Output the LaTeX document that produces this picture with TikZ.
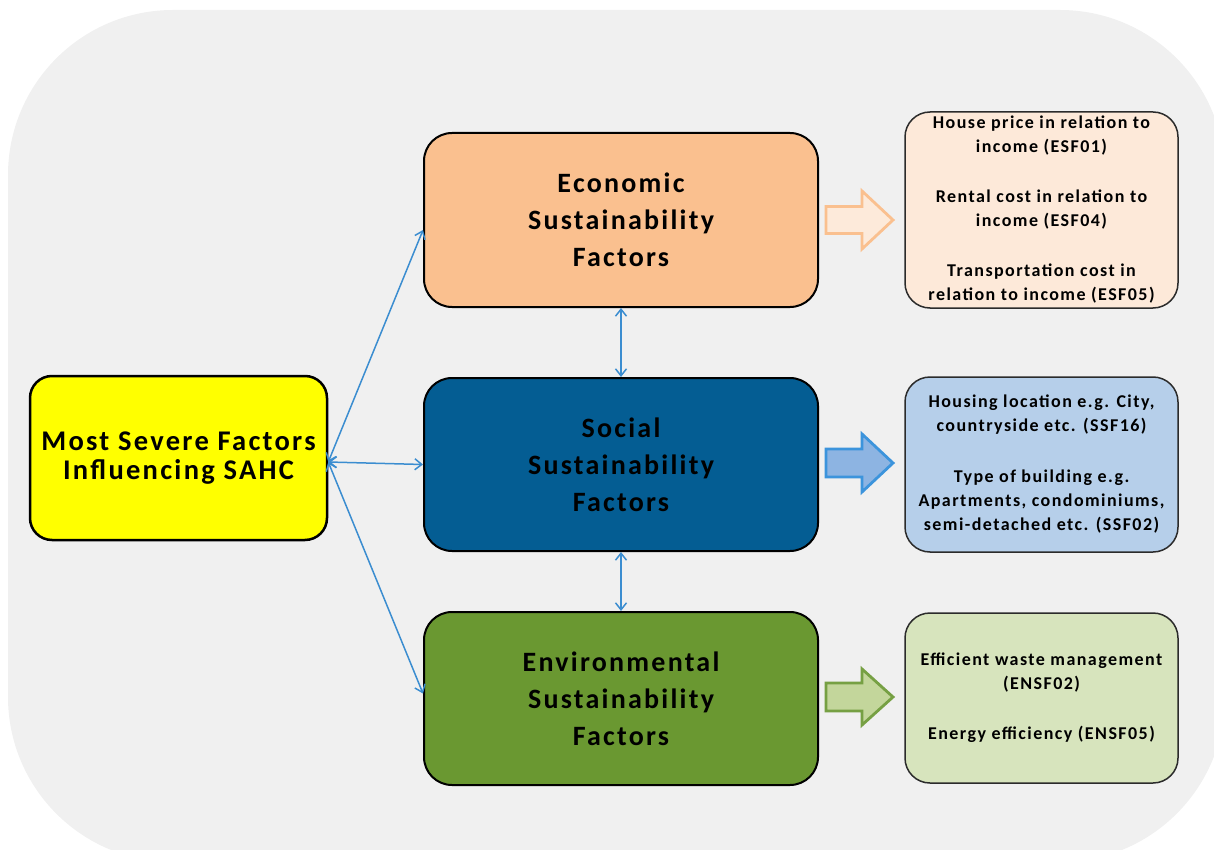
\documentclass[tikz,border=0pt]{standalone}
\usepackage{fontspec}
\setmainfont{Carlito}
\newfontfamily\bigf{Carlito}[LetterSpace=8]
\newfontfamily\smallf{Carlito}[LetterSpace=8]
\usetikzlibrary{arrows.meta}
\definecolor{bgc}{HTML}{F0F0F0}
\definecolor{yellowc}{HTML}{FFFF00}
\definecolor{econc}{HTML}{FAC08F}
\definecolor{socc}{HTML}{045D93}
\definecolor{envc}{HTML}{6A9831}
\definecolor{econl}{HTML}{FDE9D9}
\definecolor{socl}{HTML}{B6CFEA}
\definecolor{envl}{HTML}{D7E4BD}
\definecolor{connc}{HTML}{3B8DD0}
\definecolor{barrowb}{HTML}{3C94DC}
\definecolor{barrowf}{HTML}{8DB4E2}
\definecolor{garrowb}{HTML}{76A043}
\definecolor{garrowf}{HTML}{C3D69B}
\definecolor{oarrowf}{HTML}{FDEADA}
\definecolor{edgec}{HTML}{2B2B2B}
\tikzset{
  mainbox/.style={draw=black, line width=2pt, rounded corners=28pt,
    minimum width=394pt, minimum height=174pt, align=center, inner sep=0pt,
    font=\bigf\bfseries\fontsize{28}{37}\selectfont},
  sidebox/.style={draw=edgec, line width=1.5pt, rounded corners=25pt,
    minimum width=273pt, align=center, inner sep=0pt,
    font=\smallf\bfseries\fontsize{18}{24}\selectfont},
  conn/.style={draw=connc, line width=1.5pt, >={Straight Barb[length=7pt,width=11pt]}, <->},
  blockarrow/.style={line width=2.8pt, line join=miter}
}
\begin{document}
\begin{tikzpicture}[x=1pt,y=-1pt]
\useasboundingbox (0,0) rectangle (1214,850);
\begin{scope}
\clip (0,0) rectangle (1214,850);
\fill[bgc, rounded corners=165pt] (8,10) rectangle (1225,862);
\end{scope}

% left box
\node[mainbox, fill=yellowc, minimum width=297pt, minimum height=164pt,
  rounded corners=22pt, line width=2.5pt,
  font=\bigf\bfseries\fontsize{28.5}{29}\selectfont] (sev) at (178.5,458)
  {Most Severe Factors\\Influencing SAHC};

% main boxes
\node[mainbox, fill=econc] (econ) at (621,220) {Economic\\Sustainability\\Factors};
\node[mainbox, fill=socc, minimum height=173pt] (soc) at (621,464.5) {Social\\Sustainability\\Factors};
\node[mainbox, fill=envc, minimum height=173pt] (env) at (621,698.5) {Environmental\\Sustainability\\Factors};

% side boxes
\node[sidebox, fill=econl, minimum height=196pt] (econd) at (1041.5,210)
  {House price in relation to\\income (ESF01)\\[26pt]Rental cost in relation to\\income (ESF04)\\[26pt]Transportation cost in\\relation to income (ESF05)};
\node[sidebox, fill=socl, minimum height=175pt] (socd) at (1041.5,464.5)
  {Housing location e.g. City,\\countryside etc. (SSF16)\\[27pt]Type of building e.g.\\Apartments, condominiums,\\semi-detached etc. (SSF02)};
\node[sidebox, fill=envl, minimum height=170pt] (envd) at (1041.5,698)
  {Efficient waste management\\(ENSF02)\\[26pt]Energy efficiency (ENSF05)};

% connectors
\coordinate (hub) at ([yshift=-4pt]sev.east);
\draw[conn] (hub) -- ([yshift=-10pt]econ.west);
\draw[conn] (hub) -- (soc.west);
\draw[conn] (hub) -- ([yshift=5pt]env.west);
\draw[conn] (econ.south) -- (soc.north);
\draw[conn] (soc.south) -- (env.north);

% block arrows
\filldraw[blockarrow, draw=econc, fill=oarrowf]
  (826,206.5) -- (862,206.5) -- (862,191) -- (893,220) -- (862,249) -- (862,233.5) -- (826,233.5) -- cycle;
\filldraw[blockarrow, draw=barrowb, fill=barrowf]
  (826,449) -- (862,449) -- (862,434) -- (893,463) -- (862,492) -- (862,477) -- (826,477) -- cycle;
\filldraw[blockarrow, draw=garrowb, fill=garrowf]
  (826,683) -- (862,683) -- (862,669) -- (893,697) -- (862,725) -- (862,711) -- (826,711) -- cycle;
\end{tikzpicture}
\end{document}
